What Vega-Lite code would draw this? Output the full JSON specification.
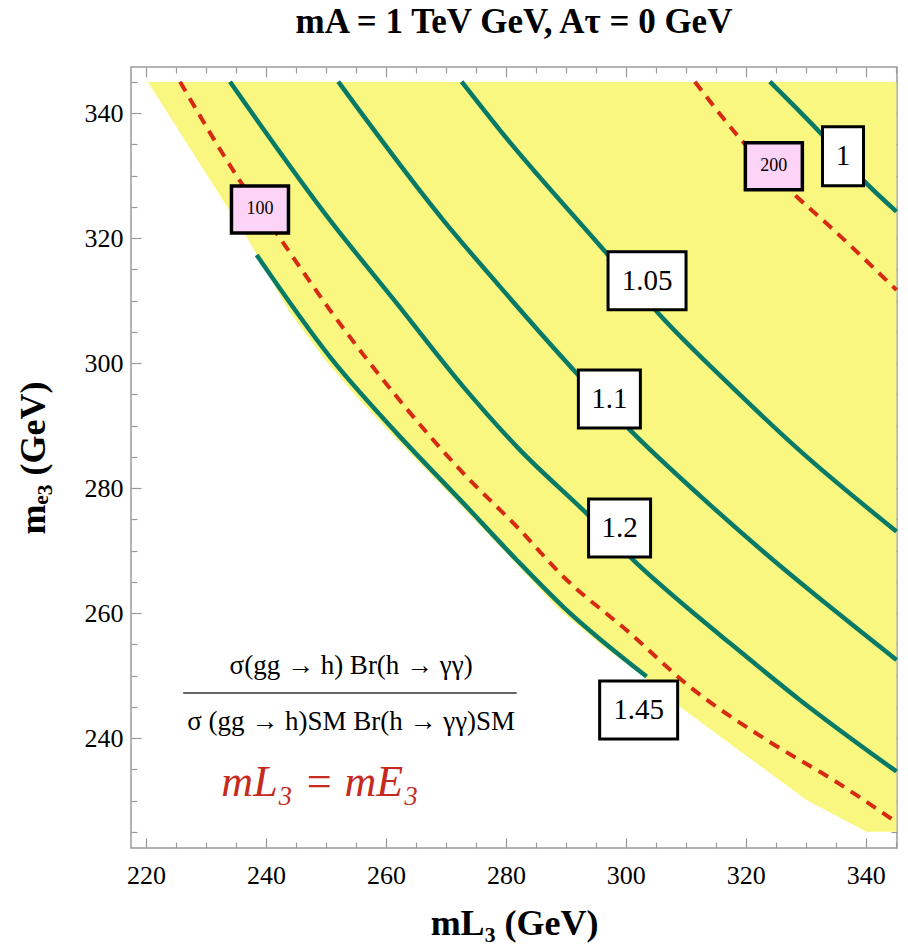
{
  "$schema": "https://vega.github.io/schema/vega-lite/v6.json",
  "width": 766,
  "height": 781,
  "autosize": {"type": "none"},
  "padding": {"left": 131, "top": 67, "right": 11, "bottom": 100},
  "background": "white",
  "title": {"text": "mA  =  1 TeV GeV,  Aτ  =  0 GeV", "font": "Liberation Serif", "fontSize": 35, "fontWeight": "bold", "color": "black", "anchor": "middle", "offset": 26},
  "config": {
    "view": {"stroke": "#9a9a9a", "strokeWidth": 1.5},
    "axis": {"domain": false, "grid": false, "labelFont": "Liberation Serif", "labelFontSize": 26, "labelColor": "black", "tickColor": "#9a9a9a", "tickWidth": 1.2, "titleFont": "Liberation Serif", "titleFontSize": 36, "titleFontWeight": "bold", "titleColor": "black"}
  },
  "datasets": {
    "boundary": [
      {"mL": 220.3, "me": 345.0},
      {"mL": 237.0, "me": 319.8},
      {"mL": 243.8, "me": 308.4},
      {"mL": 249.8, "me": 300.6},
      {"mL": 255.5, "me": 294.2},
      {"mL": 261.0, "me": 288.6},
      {"mL": 272.1, "me": 277.6},
      {"mL": 281.0, "me": 268.6},
      {"mL": 288.8, "me": 260.6},
      {"mL": 296.0, "me": 254.8},
      {"mL": 302.7, "me": 250.0},
      {"mL": 309.0, "me": 245.0},
      {"mL": 317.9, "me": 238.7},
      {"mL": 330.1, "me": 230.1},
      {"mL": 340.1, "me": 225.0},
      {"mL": 345.1, "me": 225.0}
    ],
    "contours": [
      {"level": "1.45", "mL": 238.45, "me": 317.3},
      {"level": "1.45", "mL": 250.67, "me": 301.0},
      {"level": "1.45", "mL": 261.8, "me": 288.8},
      {"level": "1.45", "mL": 272.9, "me": 277.6},
      {"level": "1.45", "mL": 281.8, "me": 268.5},
      {"level": "1.45", "mL": 289.55, "me": 261.0},
      {"level": "1.45", "mL": 303.45, "me": 249.85},
      {"level": "1.2", "mL": 234.0, "me": 345.05},
      {"level": "1.2", "mL": 250.67, "me": 322.9},
      {"level": "1.2", "mL": 261.78, "me": 309.6},
      {"level": "1.2", "mL": 272.88, "me": 296.25},
      {"level": "1.2", "mL": 282.05, "me": 286.4},
      {"level": "1.2", "mL": 294.0, "me": 275.45},
      {"level": "1.2", "mL": 301.78, "me": 268.0},
      {"level": "1.2", "mL": 311.78, "me": 259.6},
      {"level": "1.2", "mL": 317.33, "me": 255.2},
      {"level": "1.2", "mL": 329.0, "me": 246.1},
      {"level": "1.2", "mL": 345.1, "me": 234.65},
      {"level": "1.1", "mL": 252.05, "me": 345.05},
      {"level": "1.1", "mL": 269.55, "me": 322.9},
      {"level": "1.1", "mL": 279.0, "me": 312.25},
      {"level": "1.1", "mL": 291.78, "me": 298.4},
      {"level": "1.1", "mL": 301.22, "me": 288.8},
      {"level": "1.1", "mL": 312.33, "me": 278.8},
      {"level": "1.1", "mL": 324.55, "me": 268.5},
      {"level": "1.1", "mL": 334.55, "me": 260.6},
      {"level": "1.1", "mL": 345.12, "me": 252.5},
      {"level": "1.05", "mL": 272.62, "me": 345.05},
      {"level": "1.05", "mL": 279.0, "me": 337.3},
      {"level": "1.05", "mL": 296.78, "me": 317.6},
      {"level": "1.05", "mL": 305.67, "me": 307.7},
      {"level": "1.05", "mL": 317.88, "me": 296.0},
      {"level": "1.05", "mL": 329.0, "me": 286.0},
      {"level": "1.05", "mL": 345.12, "me": 273.05},
      {"level": "1", "mL": 324.0, "me": 345.05},
      {"level": "1", "mL": 332.67, "me": 336.6},
      {"level": "1", "mL": 339.55, "me": 329.3},
      {"level": "1", "mL": 345.12, "me": 324.25}
    ],
    "masses": [
      {"mass": "100", "mL": 225.67, "me": 345.05},
      {"mass": "100", "mL": 235.38, "me": 329.6},
      {"mass": "100", "mL": 242.33, "me": 320.0},
      {"mass": "100", "mL": 250.67, "me": 308.5},
      {"mass": "100", "mL": 261.78, "me": 294.65},
      {"mass": "100", "mL": 272.88, "me": 282.4},
      {"mass": "100", "mL": 282.05, "me": 273.6},
      {"mass": "100", "mL": 289.55, "me": 265.85},
      {"mass": "100", "mL": 300.67, "me": 256.8},
      {"mass": "100", "mL": 310.67, "me": 248.2},
      {"mass": "100", "mL": 323.45, "me": 239.7},
      {"mass": "100", "mL": 334.55, "me": 233.3},
      {"mass": "100", "mL": 344.55, "me": 226.9},
      {"mass": "200", "mL": 311.5, "me": 345.05},
      {"mass": "200", "mL": 319.0, "me": 336.0},
      {"mass": "200", "mL": 327.88, "me": 327.2},
      {"mass": "200", "mL": 334.55, "me": 321.4},
      {"mass": "200", "mL": 345.12, "me": 311.7}
    ],
    "labels": [
      {"t": "100", "series": "mass", "mL": 239.0, "me": 324.6},
      {"t": "200", "series": "mass", "mL": 324.67, "me": 331.5},
      {"t": "1", "series": "ratio", "mL": 336.2, "me": 333.1},
      {"t": "1.05", "series": "ratio", "mL": 303.53, "me": 313.2},
      {"t": "1.1", "series": "ratio", "mL": 297.25, "me": 294.25},
      {"t": "1.2", "series": "ratio", "mL": 298.95, "me": 273.6},
      {"t": "1.45", "series": "ratio", "mL": 302.13, "me": 244.47}
    ],
    "notes": [
      {"t": "σ(gg → h) Br(h → γγ)", "role": "num", "mL": 254.2, "me": 251.6},
      {"t": "σ (gg → h)SM Br(h → γγ)SM", "role": "den", "mL": 254.2, "me": 242.6},
      {"t": "mL₃ = mE₃", "role": "eq", "mL": 249.0, "me": 232.8}
    ],
    "fracline": [
      {"mL": 226.2, "mL2": 281.8, "me": 247.2}
    ]
  },
  "layer": [
    {
      "data": {"name": "boundary"},
      "mark": {"type": "area", "color": "#faf780", "opacity": 1, "interpolate": "linear"},
      "encoding": {
        "x": {"field": "mL", "type": "quantitative", "scale": {"domain": [217.5, 345.2], "nice": false, "zero": false},
              "axis": {"orient": "bottom", "values": [220, 240, 260, 280, 300, 320, 340], "tickSize": -10, "labelPadding": 24, "labelFont": "Liberation Serif", "title": "mL₃ (GeV)", "titlePadding": 18}},
        "y": {"field": "me", "type": "quantitative", "scale": {"domain": [222.4, 347.4], "nice": false, "zero": false},
              "axis": {"orient": "left", "values": [240, 260, 280, 300, 320, 340], "tickSize": -10, "labelPadding": 18, "labelFont": "Liberation Serif", "title": "mₑ₃ (GeV)", "titlePadding": 32}},
        "y2": {"datum": 345}
      }
    },
    {
      "data": {"name": "contours"},
      "mark": {"type": "line", "color": "#067a66", "strokeWidth": 4.5, "interpolate": "monotone"},
      "encoding": {
        "x": {"field": "mL", "type": "quantitative", "axis": {"orient": "top", "values": [220, 240, 260, 280, 300, 320, 340], "tickSize": -10, "labels": false, "title": null}},
        "y": {"field": "me", "type": "quantitative", "axis": {"orient": "right", "values": [240, 260, 280, 300, 320, 340], "tickSize": -10, "labels": false, "title": null}},
        "detail": {"field": "level"},
        "order": {"field": "mL"}
      }
    },
    {
      "data": {"name": "masses"},
      "mark": {"type": "line", "color": "#d62a12", "strokeWidth": 4, "strokeDash": [11, 8], "interpolate": "monotone"},
      "encoding": {
        "x": {"field": "mL", "type": "quantitative", "axis": {"orient": "bottom", "values": [225, 230, 235, 245, 250, 255, 265, 270, 275, 285, 290, 295, 305, 310, 315, 325, 330, 335, 345], "tickSize": -6, "labels": false, "title": null}},
        "y": {"field": "me", "type": "quantitative", "axis": {"orient": "left", "values": [225, 230, 235, 245, 250, 255, 265, 270, 275, 285, 290, 295, 305, 310, 315, 325, 330, 335, 345], "tickSize": -6, "labels": false, "title": null}},
        "detail": {"field": "mass"},
        "order": {"field": "mL"}
      }
    },
    {
      "data": {"name": "labels"},
      "transform": [{"filter": "length(datum.t) == 4"}],
      "mark": {"type": "point", "shape": "M-1,-0.744H1V0.744H-1Z", "size": 6084, "filled": true, "fill": "white", "stroke": "black", "strokeWidth": 3, "opacity": 1},
      "encoding": {
        "x": {"field": "mL", "type": "quantitative", "axis": {"orient": "top", "values": [225, 230, 235, 245, 250, 255, 265, 270, 275, 285, 290, 295, 305, 310, 315, 325, 330, 335, 345], "tickSize": -6, "labels": false, "title": null}},
        "y": {"field": "me", "type": "quantitative", "axis": {"orient": "right", "values": [225, 230, 235, 245, 250, 255, 265, 270, 275, 285, 290, 295, 305, 310, 315, 325, 330, 335, 345], "tickSize": -6, "labels": false, "title": null}}
      }
    },
    {
      "data": {"name": "labels"},
      "transform": [{"filter": "datum.series == 'ratio' && length(datum.t) == 3"}],
      "mark": {"type": "point", "shape": "M-1,-0.935H1V0.935H-1Z", "size": 3844, "filled": true, "fill": "white", "stroke": "black", "strokeWidth": 3, "opacity": 1},
      "encoding": {
        "x": {"field": "mL", "type": "quantitative", "axis": null},
        "y": {"field": "me", "type": "quantitative", "axis": null}
      }
    },
    {
      "data": {"name": "labels"},
      "transform": [{"filter": "length(datum.t) == 1"}],
      "mark": {"type": "point", "shape": "M-0.695,-1H0.695V1H-0.695Z", "size": 3481, "filled": true, "fill": "white", "stroke": "black", "strokeWidth": 3, "opacity": 1},
      "encoding": {
        "x": {"field": "mL", "type": "quantitative", "axis": null},
        "y": {"field": "me", "type": "quantitative", "axis": null}
      }
    },
    {
      "data": {"name": "labels"},
      "transform": [{"filter": "datum.series == 'mass'"}],
      "mark": {"type": "point", "shape": "M-1,-0.825H1V0.825H-1Z", "size": 3249, "filled": true, "fill": "#fdd4f7", "stroke": "black", "strokeWidth": 3.5, "opacity": 1},
      "encoding": {
        "x": {"field": "mL", "type": "quantitative", "axis": null},
        "y": {"field": "me", "type": "quantitative", "axis": null}
      }
    },
    {
      "data": {"name": "labels"},
      "transform": [{"filter": "datum.series == 'ratio'"}],
      "mark": {"type": "text", "font": "Liberation Serif", "fontSize": 29, "color": "black", "align": "center", "baseline": "middle"},
      "encoding": {
        "x": {"field": "mL", "type": "quantitative", "axis": null},
        "y": {"field": "me", "type": "quantitative", "axis": null},
        "text": {"field": "t"}
      }
    },
    {
      "data": {"name": "labels"},
      "transform": [{"filter": "datum.series == 'mass'"}],
      "mark": {"type": "text", "font": "Liberation Serif", "fontSize": 18, "color": "black", "align": "center", "baseline": "middle"},
      "encoding": {
        "x": {"field": "mL", "type": "quantitative", "axis": null},
        "y": {"field": "me", "type": "quantitative", "axis": null},
        "text": {"field": "t"}
      }
    },
    {
      "data": {"name": "notes"},
      "transform": [{"filter": "datum.role != 'eq'"}],
      "mark": {"type": "text", "font": "Liberation Serif", "fontSize": 27, "color": "black", "align": "center", "baseline": "middle"},
      "encoding": {
        "x": {"field": "mL", "type": "quantitative", "axis": null},
        "y": {"field": "me", "type": "quantitative", "axis": null},
        "text": {"field": "t"}
      }
    },
    {
      "data": {"name": "notes"},
      "transform": [{"filter": "datum.role == 'eq'"}],
      "mark": {"type": "text", "font": "Liberation Serif", "fontSize": 44, "fontStyle": "italic", "color": "#c62a1e", "align": "center", "baseline": "middle"},
      "encoding": {
        "x": {"field": "mL", "type": "quantitative", "axis": null},
        "y": {"field": "me", "type": "quantitative", "axis": null},
        "text": {"field": "t"}
      }
    },
    {
      "data": {"name": "fracline"},
      "mark": {"type": "rule", "color": "#333333", "strokeWidth": 1.5},
      "encoding": {
        "x": {"field": "mL", "type": "quantitative", "axis": null},
        "x2": {"field": "mL2"},
        "y": {"field": "me", "type": "quantitative", "axis": null}
      }
    }
  ],
  "resolve": {"axis": {"x": "independent", "y": "independent"}}
}
